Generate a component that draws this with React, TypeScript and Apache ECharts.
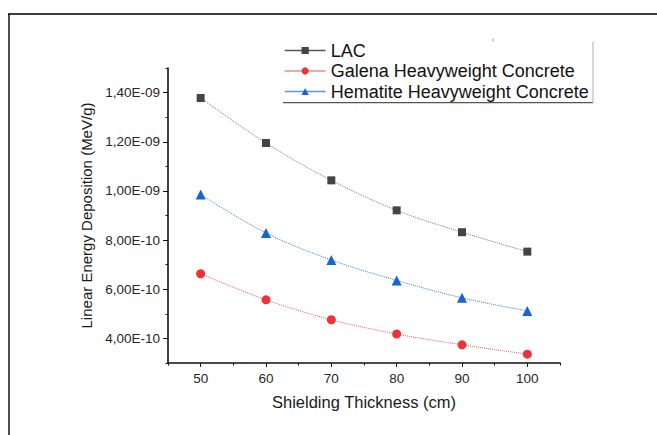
import React, { useEffect, useRef } from "react";
import * as echarts from "echarts";

const thickness = [50, 60, 70, 80, 90, 100];
const lacValues = [1.378e-9, 1.195e-9, 1.043e-9, 9.21e-10, 8.32e-10, 7.53e-10];
const galenaValues = [6.63e-10, 5.57e-10, 4.76e-10, 4.18e-10, 3.74e-10, 3.36e-10];
const hematiteValues = [9.85e-10, 8.29e-10, 7.19e-10, 6.36e-10, 5.65e-10, 5.12e-10];
const seriesNames = ["LAC", "Galena Heavyweight Concrete", "Hematite Heavyweight Concrete"];
const yMajorTicks = [4e-10, 6e-10, 8e-10, 1.0e-9, 1.2e-9, 1.4e-9];
const xMajorTicks = [50, 60, 70, 80, 90, 100];
const xTitle = "Shielding Thickness (cm)";
const yTitle = "Linear Energy Deposition (MeV/g)";

const FONT = "'Liberation Sans', Arial, sans-serif";

function fmtY(v: number): string {
  const n = Math.round(v / 1e-10);
  if (n % 2 !== 0) return "";
  if (n >= 10) return (n / 10).toFixed(2).replace(".", ",") + "E-09";
  return n.toFixed(2).replace(".", ",") + "E-10";
}

export default function App() {
  const ref = useRef<HTMLDivElement>(null);
  useEffect(() => {
    document.body.style.margin = "0";
    if (!ref.current) return;
    const chart = echarts.init(ref.current, null, { renderer: "svg" });
    const pairs = (vals: number[]) => thickness.map((x, i) => [x, vals[i]]);
    const grid = { left: 168, right: 97, top: 68, bottom: 72 };
    const yBase = { type: "value", min: 3e-10, max: 1.5e-9, interval: 1e-10 };
    const xBase = { type: "value", min: 45, max: 105, interval: 5 };
    chart.setOption({
      animation: false,
      backgroundColor: "#ffffff",
      textStyle: { fontFamily: FONT },
      grid,
      xAxis: [
        {
          ...xBase,
          name: xTitle,
          nameLocation: "middle",
          nameGap: 30,
          nameTextStyle: { fontSize: 16.5, color: "#1a1a1a", fontFamily: FONT },
          axisLine: { show: true, lineStyle: { color: "#111", width: 1.6 } },
          axisTick: { show: true, length: 2.5, lineStyle: { color: "#111", width: 1 } },
          axisLabel: {
            fontSize: 13.5, color: "#262626", margin: 8, fontFamily: FONT,
            formatter: (v: number) => (Math.round(v) % 10 === 0 && v > 45 && v < 105 ? String(Math.round(v)) : ""),
          },
          splitLine: { show: false },
        },
        {
          ...xBase,
          position: "bottom",
          axisLine: { show: false },
          axisTick: { show: true, length: 4, customValues: xMajorTicks, lineStyle: { color: "#111", width: 1 } },
          axisLabel: { show: false },
          splitLine: { show: false },
        },
      ],
      yAxis: [
        {
          ...yBase,
          name: yTitle,
          nameLocation: "middle",
          nameGap: 72,
          nameTextStyle: { fontSize: 15, color: "#1a1a1a", fontFamily: FONT },
          axisLine: { show: true, lineStyle: { color: "#111", width: 1.6 } },
          axisTick: { show: true, length: 2.5, lineStyle: { color: "#111", width: 1 } },
          axisLabel: { fontSize: 13.5, color: "#262626", margin: 8, fontFamily: FONT, formatter: fmtY },
          splitLine: { show: false },
        },
        {
          ...yBase,
          position: "left",
          axisLine: { show: false },
          axisTick: { show: true, length: 5, customValues: yMajorTicks, lineStyle: { color: "#111", width: 1 } },
          axisLabel: { show: false },
          splitLine: { show: false },
        },
      ],
      legend: {
        orient: "vertical",
        left: 284,
        top: 41.5,
        padding: 0,
        itemGap: 2.5,
        itemWidth: 41,
        itemHeight: 9,
        textStyle: { fontSize: 18, color: "#111", fontFamily: FONT, lineHeight: 18 },
        data: [
          { name: seriesNames[0], lineStyle: { type: "solid", width: 1.3, color: "#555" } },
          { name: seriesNames[1], lineStyle: { type: "solid", width: 1.3, color: "#f08a8a" } },
          { name: seriesNames[2], lineStyle: { type: "solid", width: 1.3, color: "#5c95e6" } },
        ],
      },
      series: [
        {
          name: seriesNames[0],
          type: "line",
          data: pairs(lacValues),
          smooth: 0.35,
          symbol: "rect",
          symbolSize: 8,
          itemStyle: { color: "#444444" },
          lineStyle: { type: "dotted", width: 1, color: "#7a7a7a" },
        },
        {
          name: seriesNames[1],
          type: "line",
          data: pairs(galenaValues),
          smooth: 0.35,
          symbol: "circle",
          symbolSize: 9,
          itemStyle: { color: "#ee3338" },
          lineStyle: { type: "dotted", width: 1, color: "#ef5a5a" },
        },
        {
          name: seriesNames[2],
          type: "line",
          data: pairs(hematiteValues),
          smooth: 0.35,
          symbol: "triangle",
          symbolSize: 10,
          itemStyle: { color: "#1763d8" },
          lineStyle: { type: "dotted", width: 1, color: "#3f7fe0" },
        },
      ],
      graphic: [
        { type: "line", shape: { x1: 8, y1: 14, x2: 657, y2: 14 }, style: { stroke: "#000", lineWidth: 1.4 } },
        { type: "line", shape: { x1: 9, y1: 14, x2: 9, y2: 435 }, style: { stroke: "#000", lineWidth: 1.4 } },
        { type: "line", shape: { x1: 283, y1: 102.7, x2: 593, y2: 102.7 }, style: { stroke: "#555", lineWidth: 1.2 } },
        { type: "line", shape: { x1: 593, y1: 41.5, x2: 593, y2: 102.7 }, style: { stroke: "#bbb", lineWidth: 1.2 } },
        { type: "rect", shape: { x: 492.5, y: 38.5, width: 1, height: 3 }, style: { fill: "#999" } },
      ],
    });
    return () => chart.dispose();
  }, []);
  return <div ref={ref} style={{ width: 657, height: 435 }} />;
}
